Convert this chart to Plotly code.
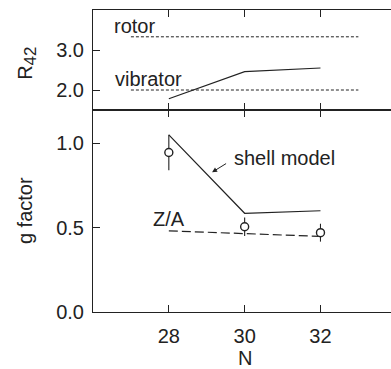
import plotly.graph_objects as go

# ---- data ----
N = [28, 30, 32]
r42_calc = [1.78, 2.46, 2.55]
rotor_N = [27, 33]
rotor_val = [3.33, 3.33]
vib_N = [27, 33]
vib_val = [2.0, 2.0]

shell_model = [1.05, 0.585, 0.60]
z_over_a = [0.481, 0.464, 0.448]
g_exp = [0.945, 0.505, 0.470]
g_err = [0.105, 0.055, 0.053]

x_ticks = [28, 30, 32]
top_ticks = [2.0, 3.0]
bot_ticks = [0.0, 0.5, 1.0]

INK = "#222222"
FONT = "Liberation Sans, Arial, sans-serif"
FS = 20

fig = go.Figure()

# top panel
fig.add_trace(go.Scatter(x=rotor_N, y=rotor_val, mode="lines",
                         line=dict(color=INK, width=1, dash="3px,2px"),
                         xaxis="x2", yaxis="y2", showlegend=False))
fig.add_trace(go.Scatter(x=vib_N, y=vib_val, mode="lines",
                         line=dict(color=INK, width=1, dash="3px,2px"),
                         xaxis="x2", yaxis="y2", showlegend=False))
fig.add_trace(go.Scatter(x=N, y=r42_calc, mode="lines",
                         line=dict(color=INK, width=1.2),
                         xaxis="x2", yaxis="y2", showlegend=False))

# bottom panel
fig.add_trace(go.Scatter(x=N, y=shell_model, mode="lines",
                         line=dict(color=INK, width=1.2),
                         xaxis="x", yaxis="y", showlegend=False))
fig.add_trace(go.Scatter(x=N, y=z_over_a, mode="lines",
                         line=dict(color=INK, width=1.2, dash="9px,4px"),
                         xaxis="x", yaxis="y", showlegend=False))
fig.add_trace(go.Scatter(x=N, y=g_exp, mode="markers",
                         marker=dict(symbol="circle", size=8, color="white",
                                     line=dict(color=INK, width=1.4)),
                         error_y=dict(type="data", array=g_err, color=INK,
                                      thickness=1.1, width=0),
                         xaxis="x", yaxis="y", showlegend=False))

XR = [26, 33.86]
split = 202 / 302

axis_common = dict(showline=True, linecolor=INK, linewidth=1.1,
                   ticks="inside", ticklen=7, tickcolor=INK, tickwidth=1.1,
                   showgrid=False, zeroline=False, automargin=False,
                   tickfont=dict(family=FONT, size=FS, color=INK))
right_common = dict(side="right", showticklabels=False, showline=False,
                    ticks="inside", ticklen=4, tickcolor=INK, tickwidth=1.1,
                    showgrid=False, zeroline=False, automargin=False)

fig.update_layout(
    template="none",
    width=391, height=369,
    margin=dict(l=93, r=0, t=10, b=57, pad=0),
    paper_bgcolor="white", plot_bgcolor="white",
    font=dict(family=FONT, size=FS, color=INK),
    xaxis=dict(domain=[0, 1], range=XR, tickvals=x_ticks, anchor="y",
               mirror="ticks", ticklabelstandoff=6, **axis_common),
    yaxis=dict(domain=[0, split], range=[0, 1.197], tickvals=bot_ticks,
               tickformat=".1f", anchor="x", ticklabelstandoff=4, **axis_common),
    xaxis2=dict(domain=[0, 1], range=XR, tickvals=x_ticks, anchor="y2",
                mirror="ticks", showticklabels=False, **axis_common),
    yaxis2=dict(domain=[split, 1], range=[1.5, 4.0], tickvals=top_ticks,
                tickformat=".1f", anchor="x2", ticklabelstandoff=4, **axis_common),
    yaxis3=dict(overlaying="y", range=[0, 1.197], tickvals=bot_ticks,
                anchor="x", **right_common),
    yaxis4=dict(overlaying="y2", range=[1.5, 4.0], tickvals=top_ticks,
                anchor="x2", **right_common),
)

ann = [
    dict(x=26.49, y=3.6, xref="x2", yref="y2", text="rotor", showarrow=False,
         xanchor="left", yanchor="middle"),
    dict(x=26.52, y=2.28, xref="x2", yref="y2", text="vibrator", showarrow=False,
         xanchor="left", yanchor="middle"),
    dict(x=29.66, y=0.915, xref="x", yref="y", text="shell model", showarrow=False,
         xanchor="left", yanchor="middle"),
    dict(x=27.54, y=0.553, xref="x", yref="y", text="Z/A", showarrow=False,
         xanchor="left", yanchor="middle"),
    dict(x=29.14, y=0.828, ax=29.55, ay=0.885, xref="x", yref="y",
         axref="x", ayref="y", text="", showarrow=True, arrowhead=2,
         arrowsize=1, arrowwidth=1, arrowcolor=INK),
    dict(x=-0.222, y=0.5 * (1 + split) - 0.01, xref="paper", yref="paper",
         text='R<sub><span style="font-size:17px">42</span></sub>',
         textangle=-90, showarrow=False, xanchor="center", yanchor="middle"),
    dict(x=-0.228, y=0.5 * split, xref="paper", yref="paper",
         text="g factor", textangle=-90, showarrow=False,
         xanchor="center", yanchor="middle"),
    dict(x=30, y=0, xref="x", yref="paper", yshift=-46, text="N",
         showarrow=False, xanchor="center", yanchor="middle"),
]
fig.update_layout(annotations=ann)

fig.write_html(
    "out.html",
    config={"displayModeBar": False},
    post_script="document.body.style.margin='0';document.body.style.overflow='hidden';",
)
